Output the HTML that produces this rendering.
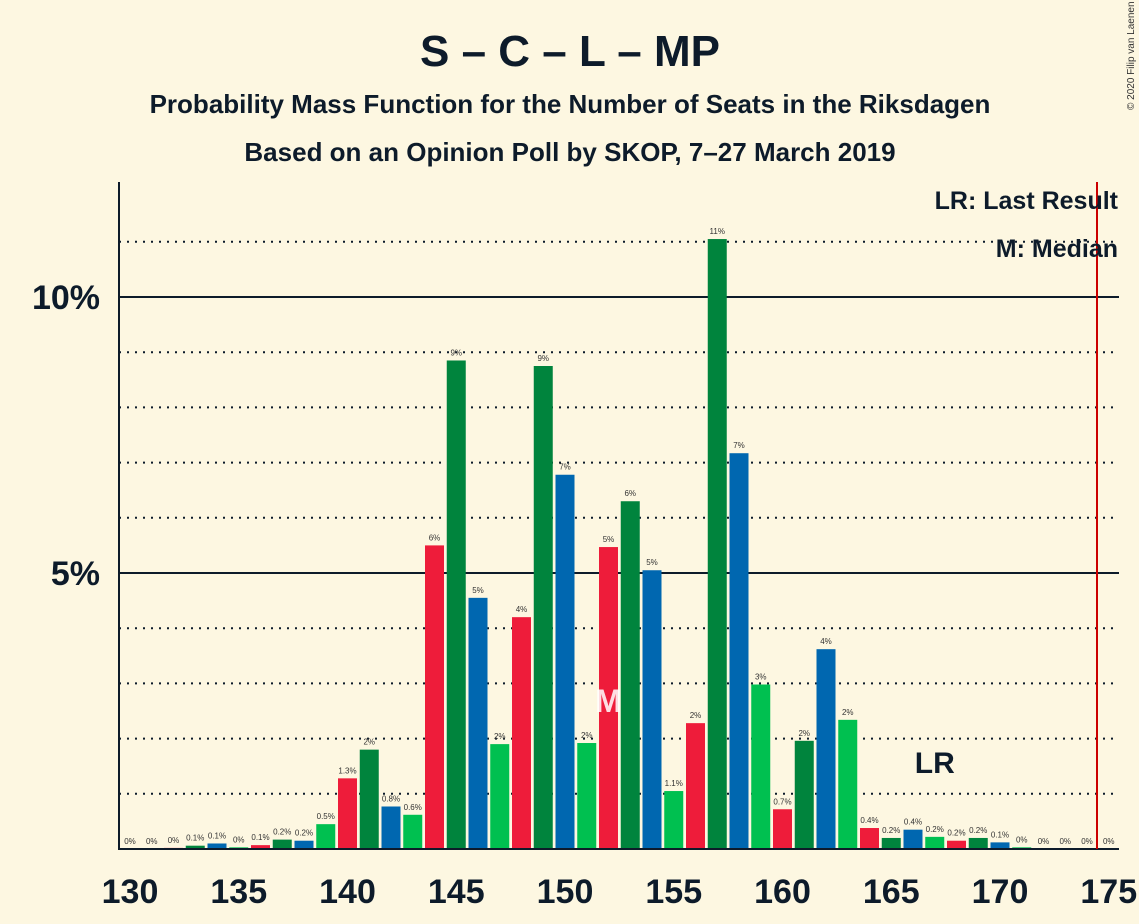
<!DOCTYPE html>
<html><head><meta charset="utf-8"><style>
html,body{margin:0;padding:0;background:#fdf7e1;}
svg{display:block;font-family:"Liberation Sans",sans-serif;}
</style></head><body>
<svg id="chart" width="1139" height="924" viewBox="0 0 1139 924">
<rect width="1139" height="924" fill="#fdf7e1"/>
<text x="570" y="66" text-anchor="middle" font-size="44" font-weight="bold" fill="#0d1b2a">S – C – L – MP</text>
<text x="570" y="113" text-anchor="middle" font-size="26" font-weight="bold" fill="#0d1b2a">Probability Mass Function for the Number of Seats in the Riksdagen</text>
<text x="570" y="161" text-anchor="middle" font-size="26" font-weight="bold" fill="#0d1b2a">Based on an Opinion Poll by SKOP, 7–27 March 2019</text>
<text transform="translate(1134,110) rotate(-90)" font-size="10" fill="#333">© 2020 Filip van Laenen</text>
<g id="grid"></g>
<g id="bars"></g>
<g id="labels"></g>
<g id="xticks"></g>
<line x1="119" y1="182" x2="119" y2="850" stroke="#0d1b2a" stroke-width="2"/>
<line x1="118" y1="849" x2="1119" y2="849" stroke="#0d1b2a" stroke-width="2"/>
<line x1="1097" y1="182" x2="1097" y2="849" stroke="#cc0000" stroke-width="2"/>
<text x="1118" y="209" text-anchor="end" font-size="25" font-weight="bold" fill="#0d1b2a">LR: Last Result</text>
<text x="1118" y="257" text-anchor="end" font-size="25" font-weight="bold" fill="#0d1b2a">M: Median</text>
<text id="lr" y="773" text-anchor="middle" font-size="30" font-weight="bold" fill="#0d1b2a">LR</text>
<text id="med" y="712" text-anchor="middle" font-size="32" font-weight="bold" fill="#ffffff" fill-opacity="0.85">M</text>
</svg>
<script>
const seats=[130,131,132,133,134,135,136,137,138,139,140,141,142,143,144,145,146,147,148,149,150,151,152,153,154,155,156,157,158,159,160,161,162,163,164,165,166,167,168,169,170,171,172,173,174,175];
const probs=[0,0,0.02,0.06,0.1,0.03,0.07,0.17,0.15,0.45,1.28,1.8,0.77,0.62,5.5,8.85,4.55,1.9,4.2,8.75,6.78,1.92,5.47,6.3,5.05,1.05,2.28,11.05,7.17,2.98,0.72,1.96,3.62,2.34,0.38,0.2,0.35,0.22,0.15,0.2,0.12,0.03,0,0,0,0];
const valueLabels=["0%","0%","0%","0.1%","0.1%","0%","0.1%","0.2%","0.2%","0.5%","1.3%","2%","0.8%","0.6%","6%","9%","5%","2%","4%","9%","7%","2%","5%","6%","5%","1.1%","2%","11%","7%","3%","0.7%","2%","4%","2%","0.4%","0.2%","0.4%","0.2%","0.2%","0.2%","0.1%","0%","0%","0%","0%","0%"];
const yTicks=[1,2,3,4,5,6,7,8,9,10,11];
const yLabelTicks=[5,10];
const xTicks=[130,135,140,145,150,155,160,165,170,175];
const medianSeat=152;
const lastResultSeat=167;
const colors=["#ee1c3a","#00843d","#0067b0","#00c050"];
const NS="http://www.w3.org/2000/svg";
const xS=s=>130+21.75*(s-130);
const yS=p=>849-55.2*p;
function mk(t,a,parent){const e=document.createElementNS(NS,t);for(const k in a)e.setAttribute(k,a[k]);parent.appendChild(e);return e;}
const grid=document.getElementById('grid'),bars=document.getElementById('bars'),labels=document.getElementById('labels'),xt=document.getElementById('xticks');
yTicks.forEach(v=>{
  const solid=yLabelTicks.includes(v);
  const l=mk('line',{x1:119,x2:1119,y1:yS(v),y2:yS(v),stroke:'#0d1b2a','stroke-width':2,'stroke-dasharray':solid?'none':'2,6'},grid);
  
  
  if(solid){const t=mk('text',{x:100,y:yS(v)+12,'text-anchor':'end','font-size':34,'font-weight':'bold',fill:'#0d1b2a'},grid);t.textContent=v+'%';
  
  }
});
seats.forEach((s,i)=>{
  const p=probs[i];
  const c=colors[((s-132)%4+4)%4];
  if(p>0){const r=mk('rect',{x:xS(s)-9.5,y:yS(p),width:19,height:849-yS(p),fill:c},bars);
  
  }
  const t=mk('text',{x:xS(s),y:yS(p)-5,'text-anchor':'middle','font-size':8,fill:'#333'},labels);
  t.textContent=valueLabels[i];
  
  
});
xTicks.forEach(s=>{
  const t=mk('text',{x:xS(s),y:903,'text-anchor':'middle','font-size':34,'font-weight':'bold',fill:'#0d1b2a'},xt);
  t.textContent=s;
  
  
});
document.getElementById('lr').setAttribute('x',xS(lastResultSeat));
document.getElementById('med').setAttribute('x',xS(medianSeat));
</script>
</body></html>
